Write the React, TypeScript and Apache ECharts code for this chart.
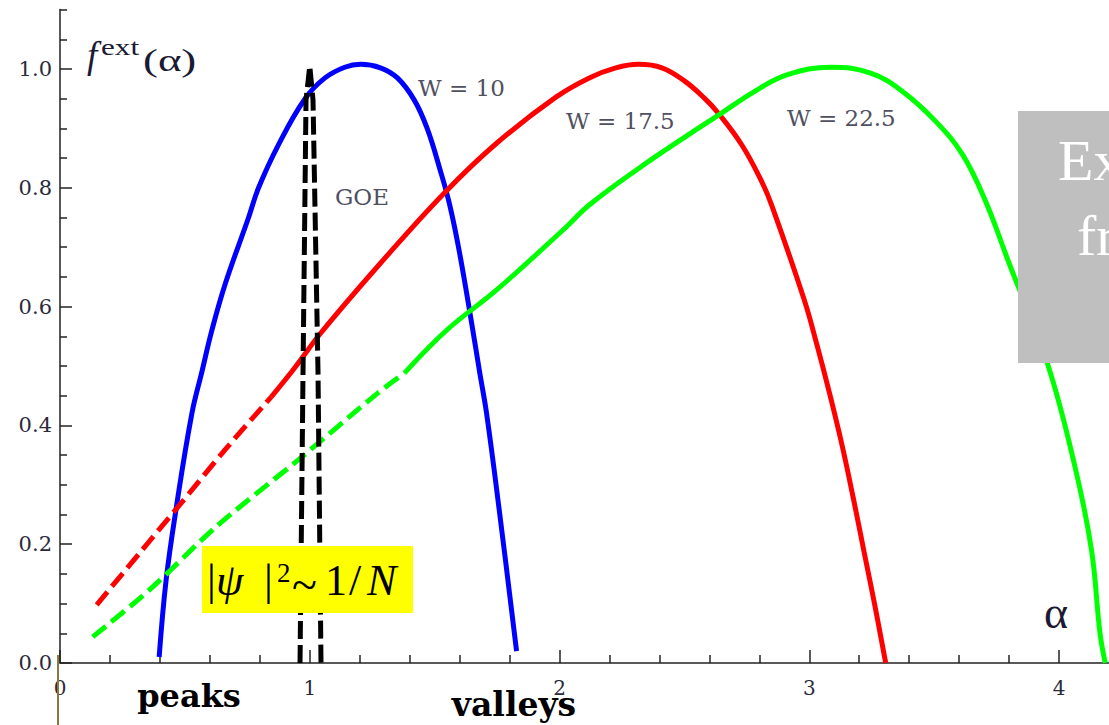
import React, { useEffect, useRef } from "react";
import * as echarts from "echarts";

// Multifractal spectra f(α) for three disorder strengths and the GOE limit
const blueW10: [number, number][] = [
  [0.397, 0.01], [0.425, 0.14], [0.465, 0.26], [0.528, 0.42], [0.568, 0.49],
  [0.608, 0.56], [0.663, 0.64], [0.755, 0.75], [0.795, 0.8], [0.874, 0.872],
  [0.981, 0.95], [1.061, 0.985], [1.14, 1.003], [1.204, 1.008], [1.283, 1.002],
  [1.351, 0.985], [1.418, 0.948], [1.47, 0.9], [1.522, 0.83], [1.561, 0.77],
  [1.6, 0.69], [1.649, 0.57], [1.68, 0.49], [1.708, 0.42], [1.76, 0.253], [1.828, 0.02],
];
const redW175Dashed: [number, number][] = [
  [0.147, 0.098], [0.358, 0.205], [0.465, 0.259], [0.663, 0.36], [0.846, 0.448],
];
const redW175: [number, number][] = [
  [0.846, 0.448], [0.94, 0.497], [1.045, 0.556], [1.283, 0.673], [1.538, 0.791],
  [1.748, 0.875], [1.987, 0.953], [2.119, 0.985], [2.225, 1.002], [2.318, 1.008],
  [2.41, 1.002], [2.5, 0.98], [2.58, 0.951], [2.635, 0.926], [2.73, 0.872],
  [2.81, 0.81], [2.85, 0.77], [2.98, 0.611], [3.031, 0.535], [3.083, 0.451],
  [3.131, 0.367], [3.178, 0.274], [3.218, 0.19], [3.262, 0.098], [3.306, 0.0],
];
const greenW225Dashed: [number, number][] = [
  [0.131, 0.044], [0.358, 0.123], [0.624, 0.229], [0.954, 0.342], [1.271, 0.454], [1.379, 0.488],
];
const greenW225: [number, number][] = [
  [1.379, 0.488], [1.55, 0.561], [1.748, 0.628], [2.014, 0.729], [2.119, 0.771],
  [2.318, 0.833], [2.515, 0.889], [2.635, 0.922], [2.78, 0.962], [2.91, 0.99],
  [3.087, 1.003], [3.246, 0.993], [3.377, 0.961], [3.508, 0.911], [3.615, 0.855],
  [3.707, 0.776], [3.8, 0.673], [3.953, 0.505], [4.064, 0.33], [4.13, 0.19],
  [4.164, 0.05], [4.185, 0.0],
];
const goe: [number, number][] = [
  [0.961, 0.0], [0.973, 0.49], [0.985, 0.948], [1.0, 1.005], [1.013, 0.948], [1.033, 0.49], [1.045, 0.0],
];

const xMajorTicks = [0, 1, 2, 3, 4];
const xMinorTicks = [0.2, 0.4, 0.6, 0.8, 1.2, 1.4, 1.6, 1.8, 2.2, 2.4, 2.6, 2.8, 3.2, 3.4, 3.6, 3.8];
const yMajorTicks = [0, 0.2, 0.4, 0.6, 0.8, 1.0];
const yMinorTicks = [0.05, 0.1, 0.15, 0.25, 0.3, 0.35, 0.45, 0.5, 0.55, 0.65, 0.7, 0.75, 0.85, 0.9, 0.95, 1.05, 1.1];

const AXIS = "#222";
const SERIF = "Liberation Serif";
const WIDE_SERIF = "DejaVu Serif";

// one text element of the graphic layer, vertically centred on y
const label = (text: string, x: number, y: number, style: Record<string, unknown>, scaleX = 1, align = "left") => ({
  type: "text",
  x,
  y,
  scaleX,
  z: 20,
  style: { text, textAlign: align, verticalAlign: "middle", ...style },
});

export default function App() {
  const ref = useRef<HTMLDivElement>(null);

  useEffect(() => {
    if (!ref.current) return;
    const chart = echarts.init(ref.current, undefined, { renderer: "svg" });

    const lineSeries = (data: [number, number][], color: string, dashed: number[] | null, smooth: number | boolean) => ({
      type: "line",
      data,
      xAxisIndex: 0,
      yAxisIndex: 0,
      symbol: "none",
      showSymbol: false,
      smooth,
      lineStyle: { color, width: 5, type: dashed ? dashed : "solid" },
      z: 3,
    });

    const baseX = { type: "value", min: 0, max: 4.2, position: "bottom", splitLine: { show: false } };
    const baseY = { type: "value", min: 0, max: 1.1, position: "left", splitLine: { show: false } };

    const wStyle = { fontFamily: WIDE_SERIF, fontSize: 23, fill: "#505060" };
    const titleStyle = { fontFamily: SERIF, fill: "#1a1a33" };
    const formula = { fontFamily: SERIF, fontSize: 44, fill: "#000" };
    const boldStyle = { fontFamily: WIDE_SERIF, fontWeight: "bold", fill: "#000" };

    chart.setOption({
      animation: false,
      backgroundColor: "#ffffff",
      grid: { left: 60, top: 9.6, width: 1057, height: 653.4, containLabel: false },
      xAxis: [
        {
          ...baseX,
          axisLine: { show: true, onZero: false, lineStyle: { color: AXIS, width: 1.5 } },
          axisTick: { show: true, inside: true, length: 13, customValues: xMajorTicks, lineStyle: { color: AXIS, width: 1.5 } },
          axisLabel: {
            show: true,
            customValues: xMajorTicks,
            formatter: (v: number) => String(v),
            fontFamily: WIDE_SERIF,
            fontSize: 20,
            color: "#2a2a3a",
            margin: 15,
          },
        },
        {
          ...baseX,
          axisLine: { show: false },
          axisTick: { show: true, inside: true, length: 8, customValues: xMinorTicks, lineStyle: { color: AXIS, width: 1.5 } },
          axisLabel: { show: false },
        },
      ],
      yAxis: [
        {
          ...baseY,
          axisLine: { show: true, onZero: false, lineStyle: { color: AXIS, width: 1.5 } },
          axisTick: { show: true, inside: true, length: 12, customValues: yMajorTicks, lineStyle: { color: AXIS, width: 1.5 } },
          axisLabel: {
            show: true,
            customValues: yMajorTicks,
            formatter: (v: number) => v.toFixed(1),
            fontFamily: WIDE_SERIF,
            fontSize: 21,
            color: "#2a2a3a",
            margin: 8,
          },
        },
        {
          ...baseY,
          axisLine: { show: false },
          axisTick: { show: true, inside: true, length: 7, customValues: yMinorTicks, lineStyle: { color: AXIS, width: 1.5 } },
          axisLabel: { show: false },
        },
      ],
      series: [
        lineSeries(blueW10, "#0000ff", null, 0.4),
        lineSeries(redW175Dashed, "#ff0000", [17, 7], 0.3),
        lineSeries(redW175, "#ff0000", null, 0.4),
        lineSeries(greenW225Dashed, "#00ff00", [17, 7], 0.3),
        lineSeries(greenW225, "#00ff00", null, 0.4),
        lineSeries(goe, "#000000", [18, 6], false),
      ],
      graphic: [
        // curve annotations
        label("W = 10", 418, 88, wStyle),
        label("W = 17.5", 566, 121, wStyle),
        label("W = 22.5", 787, 118, wStyle),
        label("GOE", 335, 197, wStyle),
        // axis titles
        label("f", 87, 55, { ...titleStyle, fontStyle: "italic", fontSize: 37 }),
        label("ext", 101, 47, { ...titleStyle, fontSize: 24 }, 1.3),
        label("(α)", 143, 60, { ...titleStyle, fontSize: 32 }, 1.4),
        label("α", 1056, 612, { ...titleStyle, fontSize: 46 }, 1, "center"),
        // region labels under the axis
        label("peaks", 189, 696, { ...boldStyle, fontSize: 32 }, 1, "center"),
        label("valleys", 514, 704, { ...boldStyle, fontSize: 33 }, 1, "center"),
        // highlighted formula |ψ|² ~ 1/N
        { type: "rect", z: 15, shape: { x: 202, y: 546, width: 211, height: 67 }, style: { fill: "#ffff00" } },
        label("|", 207, 580, formula),
        label("ψ", 216, 580, { ...formula, fontStyle: "italic" }),
        label("|", 264, 580, formula),
        label("2", 277, 573, { ...formula, fontSize: 27 }),
        label("~", 292, 584, { ...formula, fontSize: 46 }),
        label("1", 325, 580, formula),
        label("/", 349, 580, formula),
        label("N", 367, 580, { ...formula, fontStyle: "italic" }),
        // gray callout box at the right
        { type: "rect", z: 15, shape: { x: 1018, y: 111, width: 220, height: 252 }, style: { fill: "#bfbfbf" } },
        label("Extended", 1058, 160, { fontFamily: SERIF, fontSize: 58, fill: "#ffffff" }),
        label("fractal", 1077, 235, { fontFamily: SERIF, fontSize: 58, fill: "#ffffff" }),
        // thin frame edge near the origin
        { type: "line", z: 20, shape: { x1: 58, y1: 655, x2: 58, y2: 725 }, style: { stroke: "#8a7a40", lineWidth: 2 } },
      ],
    });

    return () => chart.dispose();
  }, []);

  return <div ref={ref} style={{ position: "absolute", left: 0, top: 0, width: 1109, height: 725 }} />;
}
